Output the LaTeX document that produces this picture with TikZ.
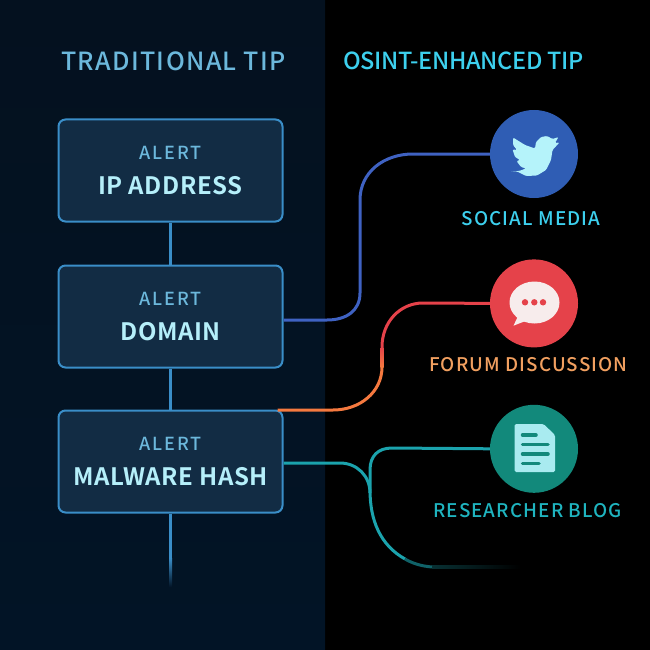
\documentclass[tikz,border=0pt]{standalone}
\usepackage{fontspec}
\usepackage{xcolor}
\usepackage{tikz}
\usetikzlibrary{positioning}
\setmainfont{Noto Sans CJK SC}
\newfontfamily\lefttitlefont[LetterSpace=5.5]{Noto Sans CJK SC Medium}
\newfontfamily\righttitlefont[LetterSpace=-1.3]{Noto Sans CJK SC Medium}
\newfontfamily\alertfont[LetterSpace=11]{Noto Sans CJK SC Medium}
\newfontfamily\namefont[LetterSpace=2.5]{Noto Sans CJK SC Bold}
\newfontfamily\labelfont[LetterSpace=6]{Noto Sans CJK SC Medium}
\definecolor{panelTop}{HTML}{04111F}
\definecolor{panelBot}{HTML}{021426}
\definecolor{boxFill}{HTML}{122C44}
\definecolor{boxEdge}{HTML}{3A8EC8}
\definecolor{softBlue}{HTML}{6CB8DC}
\definecolor{paleBlue}{HTML}{B5EFFA}
\definecolor{brightCyan}{HTML}{3DD0EE}
\definecolor{twitBlue}{HTML}{2F5DB4}
\definecolor{lineBlue}{HTML}{3F62C2}
\definecolor{forumRed}{HTML}{E5424A}
\definecolor{lineOrange}{HTML}{F5793F}
\definecolor{labelOrange}{HTML}{F2A060}
\definecolor{blogTeal}{HTML}{12897B}
\definecolor{lineTeal}{HTML}{1BA3AD}
\definecolor{labelTeal}{HTML}{1FB4BF}
\definecolor{iconPale}{HTML}{B5F3FA}
\definecolor{docPale}{HTML}{A9EBF0}
\definecolor{bubblePale}{HTML}{F7ECEC}

\begin{document}
\begin{tikzpicture}[
		x=1pt, y=-1pt,
		alertbox/.style={rectangle, rounded corners=7pt, draw=boxEdge, fill=boxFill, line width=2pt, minimum width=224pt, minimum height=102pt, align=center, inner sep=0pt},
		tipcircle/.style={circle, minimum size=88pt, inner sep=0pt},
		tiplabel/.style={font=\labelfont\fontsize{18.8}{18.8}\selectfont},
		edge/.style={line width=3pt, draw=boxEdge},
		link/.style={line width=3pt}
	]
	\useasboundingbox (0,0) rectangle (650,650);
	\fill[black] (0,0) rectangle (650,650);
	\shade[top color=panelTop, bottom color=panelBot] (0,0) rectangle (325,650);

	\node[font=\lefttitlefont\fontsize{25}{25}\selectfont, text=softBlue] (left) at (173.5,61) {TRADITIONAL TIP};
	\node[font=\righttitlefont\fontsize{23.5}{23.5}\selectfont, text=brightCyan] (right) at (463.5,61) {OSINT-ENHANCED TIP};

	\newcommand{\alerttext}[1]{{\alertfont\fontsize{18}{18}\selectfont\color{softBlue}ALERT}\\[16.5pt]{\namefont\fontsize{24}{24}\selectfont\color{paleBlue}#1}}
	\node[alertbox] (ip) at (170.5,170.5) {\alerttext{IP ADDRESS}};
	\node[alertbox] (domain) [below=42pt of ip] {\alerttext{DOMAIN}};
	\node[alertbox] (hash) [below=41pt of domain] {\alerttext{MALWARE HASH}};
	\coordinate (tail) at (hash.south |- 0,558);
	\coordinate (tailend) at (hash.south |- 0,587);

	\draw[edge] (ip) -- (domain);
	\draw[edge] (domain) -- (hash);
	\draw[edge] (hash) -- (tail);
	\shade[top color=boxEdge, bottom color=panelBot] ([xshift=-1.5pt]tail) rectangle ([xshift=1.5pt]tailend);

	\node[tipcircle, fill=twitBlue] (social) at (534,154) {};
	\node[tipcircle, fill=forumRed] (forum) [below=61pt of social] {};
	\node[tipcircle, fill=blogTeal] (blog) [below=57pt of forum] {};

	\node[tiplabel, text=brightCyan] (sociallabel) at (531,219) {SOCIAL MEDIA};
	\node[tiplabel, text=labelOrange] (forumlabel) at (528.5,365) {FORUM DISCUSSION};
	\node[tiplabel, text=labelTeal] (bloglabel) at (527.5,511) {RESEARCHER BLOG};

	% social line
	\draw[link, lineBlue] ([yshift=-3.5pt]domain.east) -- (327,320) .. controls (346,320) and (360,311) .. (360,293) -- (360,200) .. controls (360,172) and (384,154) .. (413,154) -- (social.west);

	% forum line
	\draw[link, lineOrange] ([xshift=-6pt,yshift=-0.5pt]hash.north east) -- (333,410) .. controls (360,410) and (382,392) .. (382,367);
	\shade[top color=forumRed, bottom color=lineOrange] (380.5,347) rectangle (383.5,367);
	\draw[link, forumRed] (382,347) .. controls (382,322) and (400,303) .. (423,303) -- (forum.west);

	% blog lines
	\draw[link, lineTeal] ([yshift=-1.5pt]hash.east) -- (340,463) .. controls (357,463) and (370,476) .. (370,493);
	\draw[link, lineTeal] (blog.west) -- (392,448) .. controls (378,448) and (370,456) .. (370,470) -- (370,490) .. controls (370,520) and (380,545) .. (405,559);
	\draw[link, lineTeal!60!black] (405,559) .. controls (412,563) and (420,566) .. (432,567);
	\shade[left color=lineTeal!30!black, right color=black] (432,565.5) rectangle (520,568.5);

	% bird
	\fill[iconPale, rounded corners=1.2pt] (510,171) -- (517,171.5) -- (526,176) -- (537,175.5) -- (546,170) -- (551,160) -- (552.5,150) -- (559.5,142.5) -- (555,143) -- (558.5,137) -- (552.5,139) -- (547,136) -- (541,137) -- (536,142) -- (535,148.5) -- (525,145) -- (513,137.5) -- (513,145) -- (517,150) -- (512.5,149.5) -- (515,157) -- (520,160) -- (516.5,161) -- (521,167) -- (526,168.5) -- (519,171) -- cycle;

	% bubble
	\fill[bubblePale] (534.5,302.5) ellipse (25 and 21);
	\fill[bubblePale] (519,314) -- (513.5,325.7) -- (528,320) -- cycle;
	\foreach \dotx in {525,534.3,543}
		\fill[forumRed] (\dotx,302.3) circle (3.2);

	% document
	\fill[docPale, rounded corners=1.5pt] (514.5,424) -- (543.5,424) -- (555,435) -- (555,472) -- (514.5,472) -- cycle;
	\draw[blogTeal, line width=3.5pt, line cap=round] (522.5,435) -- (536,435);
	\foreach \docy/\docx in {444.3/548, 454/548, 463.7/539}
		\draw[blogTeal, line width=3.5pt, line cap=round] (522.5,\docy) -- (\docx,\docy);
\end{tikzpicture}
\end{document}
